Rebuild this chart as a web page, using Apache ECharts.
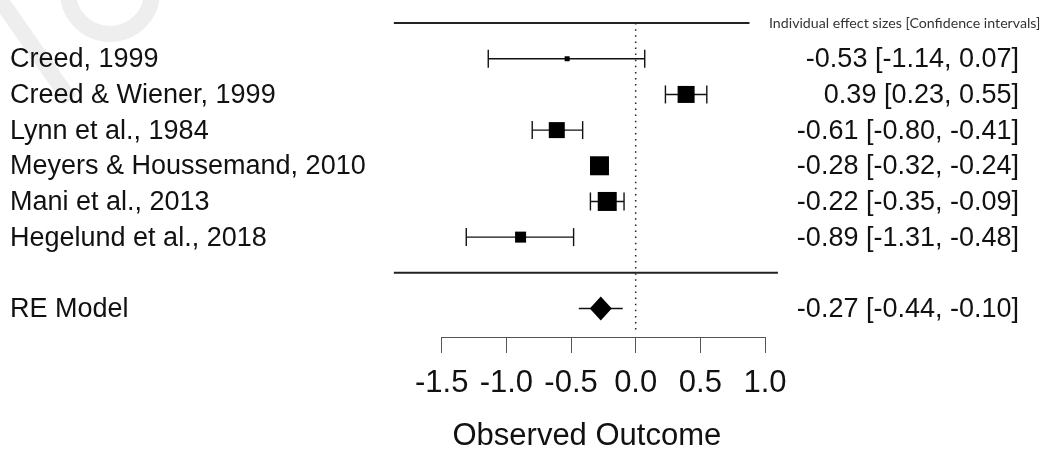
<!DOCTYPE html>
<html>
<head>
<meta charset="utf-8">
<script src="https://cdn.jsdelivr.net/npm/echarts@6/dist/echarts.min.js"></script>
<style>
  html, body { margin: 0; padding: 0; background: #fff; }
  #forest { width: 1045px; height: 457px; }
</style>
</head>
<body>
<div id="forest"></div>
<script>
// studies, top to bottom
const studies = ["Creed, 1999", "Creed & Wiener, 1999", "Lynn et al., 1984",
  "Meyers & Houssemand, 2010", "Mani et al., 2013", "Hegelund et al., 2018"];
const effect = [-0.53, 0.39, -0.61, -0.28, -0.22, -0.89];
const ciLow = [-1.14, 0.23, -0.80, -0.32, -0.35, -1.31];
const ciHigh = [0.07, 0.55, -0.41, -0.24, -0.09, -0.48];
// square size ~ study weight (px)
const weightSize = [5, 17, 16, 19, 19, 11];

const reModel = { name: "RE Model", est: -0.27, lo: -0.44, hi: -0.10 };

const xTicks = [-1.5, -1.0, -0.5, 0.0, 0.5, 1.0];
const xlim = [-1.87, 1.10];

const fmt = v => v.toFixed(2);
const rowOf = i => studies.length - i; // 6..1, separator at 0, RE at -1

const whiskerData = studies.map((s, i) => [ciLow[i], ciHigh[i], rowOf(i), 1]);
whiskerData.push([reModel.lo, reModel.hi, -1, 0]);

const squareData = studies.map((s, i) => ({ value: [effect[i], rowOf(i)], symbolSize: weightSize[i] }));

const textRows = studies.map((s, i) => [rowOf(i), s, fmt(effect[i]) + " [" + fmt(ciLow[i]) + ", " + fmt(ciHigh[i]) + "]"]);
textRows.push([-1, reModel.name, fmt(reModel.est) + " [" + fmt(reModel.lo) + ", " + fmt(reModel.hi) + "]"]);

// horizontal rules: [x1, x2, y]
const rules = [[xlim[0], 0.88, 7], [xlim[0], xlim[1], 0]];

const chart = echarts.init(document.getElementById("forest"));
const FONT = "'Liberation Sans', Arial, sans-serif";

const option = {
  animation: false,
  backgroundColor: "#fff",
  title: {
    text: "Individual effect sizes [Confidence intervals]",
    left: 769,
    top: 16,
    padding: 0,
    textStyle: { fontFamily: "Lato, 'Open Sans', sans-serif", fontSize: 14.2, fontWeight: "normal", color: "#333" }
  },
  graphic: [
    // faint watermark in the corner
    { type: "line", silent: true, z: -10, shape: { x1: -4, y1: -6, x2: 70, y2: 100 },
      style: { stroke: "#eeeeee", lineWidth: 16 } },
    { type: "arc", silent: true, z: -10, shape: { cx: 110, cy: -8, r: 42, startAngle: 0, endAngle: Math.PI },
      style: { stroke: "#eeeeee", lineWidth: 16, fill: null } }
  ],
  grid: { left: 441.7, right: 280, top: 23.1, bottom: 111 },
  xAxis: {
    type: "value",
    min: -1.5,
    max: 1.0,
    interval: 0.5,
    splitLine: { show: false },
    axisLine: { onZero: false, lineStyle: { color: "#555", width: 1 } },
    axisTick: { length: 16, lineStyle: { color: "#555", width: 1 } },
    axisLabel: { fontFamily: FONT, fontSize: 31, color: "#111", margin: 31,
      formatter: v => v.toFixed(1) },
    name: "Observed Outcome",
    nameLocation: "middle",
    nameGap: 84,
    nameTextStyle: { fontFamily: FONT, fontSize: 31, color: "#111", padding: [0, 33, 0, 0] }
  },
  yAxis: { type: "value", min: -1.8, max: 7, show: false },
  series: [
    {
      // dotted reference line at 0
      type: "custom",
      clip: false,
      data: [[0, 7, -1.6]],
      renderItem: (params, api) => {
        const a = api.coord([api.value(0), api.value(1)]);
        const b = api.coord([api.value(0), api.value(2)]);
        return { type: "line", shape: { x1: a[0], y1: a[1], x2: b[0], y2: b[1] },
          style: { stroke: "#222", lineWidth: 1.5, lineDash: [1.5, 4.6] } };
      }
    },
    {
      // horizontal rules
      type: "custom",
      clip: false,
      data: rules,
      renderItem: (params, api) => {
        const a = api.coord([api.value(0), api.value(2)]);
        const b = api.coord([api.value(1), api.value(2)]);
        return { type: "line", shape: { x1: a[0], y1: a[1], x2: b[0], y2: b[1] },
          style: { stroke: "#222", lineWidth: 2 } };
      }
    },
    {
      // confidence intervals
      type: "custom",
      clip: false,
      data: whiskerData,
      renderItem: (params, api) => {
        const a = api.coord([api.value(0), api.value(2)]);
        const b = api.coord([api.value(1), api.value(2)]);
        const st = { stroke: "#111", lineWidth: 1.4 };
        const kids = [{ type: "line", shape: { x1: a[0], y1: a[1], x2: b[0], y2: b[1] }, style: st }];
        if (api.value(3)) {
          kids.push({ type: "line", shape: { x1: a[0], y1: a[1] - 9, x2: a[0], y2: a[1] + 9 }, style: st });
          kids.push({ type: "line", shape: { x1: b[0], y1: b[1] - 9, x2: b[0], y2: b[1] + 9 }, style: st });
        }
        return { type: "group", children: kids };
      }
    },
    {
      type: "scatter",
      symbol: "rect",
      data: squareData,
      itemStyle: { color: "#000", opacity: 1 },
      z: 3
    },
    {
      type: "scatter",
      symbol: "diamond",
      symbolSize: [22, 24],
      data: [[reModel.est, -1]],
      itemStyle: { color: "#000", opacity: 1 },
      z: 3
    },
    {
      // study labels and effect text
      type: "custom",
      clip: false,
      data: textRows,
      renderItem: (params, api) => {
        const y = api.coord([0, api.value(0)])[1] + 1;
        const r = textRows[params.dataIndex];
        return { type: "group", children: [
          { type: "text", style: { x: 10, y: y, text: r[1], fontFamily: FONT, fontSize: 27,
              fill: "#111", align: "left", verticalAlign: "middle" } },
          { type: "text", style: { x: 1019, y: y, text: r[2], fontFamily: FONT, fontSize: 27,
              fill: "#111", align: "right", verticalAlign: "middle" } }
        ] };
      }
    }
  ]
};

chart.setOption(option);
window.addEventListener("resize", chart.resize);
</script>
</body>
</html>
